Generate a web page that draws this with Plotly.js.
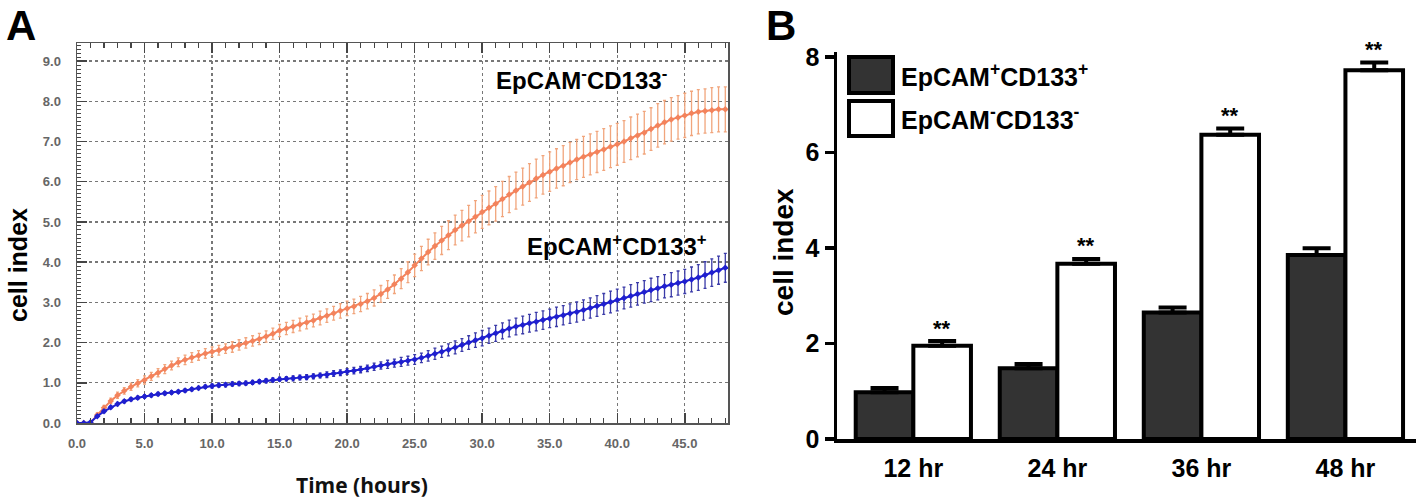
<!DOCTYPE html>
<html>
<head>
<meta charset="utf-8">
<script src="https://cdn.plot.ly/plotly-3.0.1.min.js"></script>
<style>
  body { margin: 0; background: #fff; }
  #plot { width: 1418px; height: 504px; }
</style>
</head>
<body>
<div id="plot"></div>
<script>
// panel A: real-time cell index, sampled every half hour
var hours = [
  0, 0.5, 1, 1.5, 2, 2.5, 3, 3.5, 4, 4.5,
  5, 5.5, 6, 6.5, 7, 7.5, 8, 8.5, 9, 9.5,
  10, 10.5, 11, 11.5, 12, 12.5, 13, 13.5, 14, 14.5,
  15, 15.5, 16, 16.5, 17, 17.5, 18, 18.5, 19, 19.5,
  20, 20.5, 21, 21.5, 22, 22.5, 23, 23.5, 24, 24.5,
  25, 25.5, 26, 26.5, 27, 27.5, 28, 28.5, 29, 29.5,
  30, 30.5, 31, 31.5, 32, 32.5, 33, 33.5, 34, 34.5,
  35, 35.5, 36, 36.5, 37, 37.5, 38, 38.5, 39, 39.5,
  40, 40.5, 41, 41.5, 42, 42.5, 43, 43.5, 44, 44.5,
  45, 45.5, 46, 46.5, 47, 47.5, 48
];

var negCurve = [
  0, 0, 0.0, 0.2, 0.38, 0.55, 0.69, 0.8, 0.9, 0.99,
  1.07, 1.16, 1.25, 1.34, 1.43, 1.51, 1.57, 1.63, 1.68, 1.73,
  1.77, 1.81, 1.85, 1.89, 1.94, 1.99, 2.04, 2.09, 2.15, 2.22,
  2.3, 2.35, 2.4, 2.45, 2.5, 2.55, 2.61, 2.67, 2.73, 2.79,
  2.85, 2.9, 2.96, 3.03, 3.11, 3.21, 3.32, 3.45, 3.59, 3.75,
  3.92, 4.09, 4.25, 4.4, 4.54, 4.67, 4.8, 4.91, 5.02, 5.13,
  5.25, 5.35, 5.45, 5.57, 5.68, 5.78, 5.88, 5.98, 6.08, 6.17,
  6.25, 6.33, 6.4, 6.48, 6.55, 6.62, 6.68, 6.74, 6.8, 6.87,
  6.93, 7.0, 7.08, 7.15, 7.22, 7.31, 7.4, 7.48, 7.55, 7.6,
  7.65, 7.7, 7.74, 7.76, 7.78, 7.8, 7.8
];
var negCurveErr = [
  0, 0, 0.03, 0.05, 0.06, 0.07, 0.08, 0.08, 0.09, 0.09,
  0.1, 0.1, 0.1, 0.11, 0.11, 0.11, 0.12, 0.12, 0.12, 0.12,
  0.12, 0.12, 0.12, 0.13, 0.13, 0.13, 0.13, 0.14, 0.14, 0.14,
  0.15, 0.15, 0.15, 0.16, 0.16, 0.16, 0.17, 0.17, 0.17, 0.18,
  0.18, 0.18, 0.19, 0.19, 0.2, 0.21, 0.22, 0.23, 0.25, 0.26,
  0.28, 0.3, 0.32, 0.33, 0.35, 0.36, 0.37, 0.38, 0.39, 0.4,
  0.41, 0.42, 0.43, 0.44, 0.45, 0.46, 0.46, 0.47, 0.48, 0.48,
  0.49, 0.49, 0.5, 0.5, 0.5, 0.51, 0.51, 0.51, 0.52, 0.52,
  0.52, 0.52, 0.53, 0.53, 0.53, 0.53, 0.54, 0.54, 0.54, 0.54,
  0.55, 0.55, 0.55, 0.55, 0.56, 0.56, 0.56
];

var posCurve = [
  0, 0, 0.02, 0.17, 0.29, 0.39, 0.47, 0.54, 0.59, 0.63,
  0.66, 0.69, 0.72, 0.74, 0.76, 0.78, 0.81, 0.84, 0.87, 0.9,
  0.92, 0.94, 0.95, 0.97, 0.98, 0.99, 1.01, 1.03, 1.05, 1.07,
  1.09, 1.1, 1.11, 1.13, 1.14, 1.16, 1.18, 1.2, 1.23, 1.25,
  1.28, 1.3, 1.33, 1.36, 1.4, 1.43, 1.46, 1.49, 1.52, 1.55,
  1.58, 1.62, 1.67, 1.72, 1.77, 1.82, 1.88, 1.94, 2.0, 2.06,
  2.11, 2.17, 2.23, 2.29, 2.35, 2.4, 2.44, 2.48, 2.52, 2.56,
  2.6, 2.64, 2.68, 2.72, 2.76, 2.81, 2.86, 2.91, 2.96, 3.01,
  3.06, 3.11, 3.16, 3.21, 3.26, 3.31, 3.35, 3.4, 3.44, 3.48,
  3.52, 3.57, 3.62, 3.68, 3.74, 3.8, 3.86
];
var posCurveErr = [
  0, 0, 0.02, 0.03, 0.03, 0.03, 0.04, 0.04, 0.04, 0.04,
  0.04, 0.04, 0.04, 0.04, 0.04, 0.04, 0.04, 0.04, 0.04, 0.04,
  0.05, 0.05, 0.05, 0.05, 0.05, 0.05, 0.05, 0.05, 0.05, 0.05,
  0.05, 0.05, 0.06, 0.06, 0.06, 0.06, 0.06, 0.07, 0.07, 0.07,
  0.07, 0.08, 0.08, 0.08, 0.09, 0.09, 0.1, 0.1, 0.11, 0.11,
  0.12, 0.12, 0.13, 0.14, 0.14, 0.15, 0.16, 0.16, 0.17, 0.18,
  0.19, 0.19, 0.2, 0.2, 0.21, 0.21, 0.22, 0.22, 0.23, 0.23,
  0.23, 0.24, 0.24, 0.24, 0.25, 0.25, 0.25, 0.26, 0.26, 0.27,
  0.27, 0.27, 0.28, 0.28, 0.28, 0.29, 0.29, 0.29, 0.3, 0.3,
  0.3, 0.31, 0.32, 0.33, 0.34, 0.35, 0.36
];

// panel B: cell index at fixed times
var times = ["12 hr", "24 hr", "36 hr", "48 hr"];
var posBars = [0.98, 1.48, 2.65, 3.85];
var posBarsErr = [0.09, 0.09, 0.1, 0.14];
var negBars = [1.95, 3.67, 6.37, 7.72];
var negBarsErr = [0.1, 0.1, 0.13, 0.16];
var stars = ["**", "**", "**", "**"];

var posName = "EpCAM<sup>+</sup>CD133<sup>+</sup>";
var negName = "EpCAM<sup>-</sup>CD133<sup>-</sup>";

var W = 1418, H = 504;
function px(x) { return x / W; }
function py(y) { return 1 - y / H; }

var font = "Liberation Sans, Arial, sans-serif";

var traceNeg = {
  x: hours, y: negCurve,
  type: "scatter", mode: "lines+markers",
  line: {color: "#f3835c", width: 2},
  marker: {color: "#f3835c", size: 5, symbol: "diamond"},
  error_y: {type: "data", array: negCurveErr, visible: true,
            color: "#f1a57c", thickness: 1.3, width: 1.5},
  xaxis: "x", yaxis: "y", showlegend: false, hoverinfo: "x+y"
};
var tracePos = {
  x: hours, y: posCurve,
  type: "scatter", mode: "lines+markers",
  line: {color: "#1f1fcf", width: 2},
  marker: {color: "#1f1fcf", size: 5, symbol: "diamond"},
  error_y: {type: "data", array: posCurveErr, visible: true,
            color: "#3a3aa8", thickness: 1.3, width: 1.5},
  xaxis: "x", yaxis: "y", showlegend: false, hoverinfo: "x+y"
};

var zeros = times.map(function () { return 0; });

var barPos = {
  x: times, y: posBars, type: "bar", name: posName,
  marker: {color: "#333333", line: {color: "#000", width: 4}},
  error_y: {type: "data", symmetric: false, array: posBarsErr, arrayminus: zeros,
            color: "#000", thickness: 4, width: 14},
  xaxis: "x2", yaxis: "y2", showlegend: false
};
var barNeg = {
  x: times, y: negBars, type: "bar", name: negName,
  marker: {color: "#ffffff", line: {color: "#000", width: 4}},
  error_y: {type: "data", symmetric: false, array: negBarsErr, arrayminus: zeros,
            color: "#000", thickness: 4, width: 14},
  xaxis: "x2", yaxis: "y2", showlegend: false
};

// paper-positioned label, anchored explicitly
function label(text, x, y, size, opts) {
  var a = {text: text, x: px(x), y: py(y), xref: "paper", yref: "paper", showarrow: false,
           xanchor: "center", yanchor: "middle",
           font: {size: size, weight: "bold", color: "#000", family: font}};
  for (var k in opts) a[k] = opts[k];
  return a;
}

var annotations = [
  label("A", 21, 0, 42, {yanchor: "top"}),
  label("B", 781, 0, 42, {yanchor: "top"}),
  label("cell index", 18, 265, 25, {textangle: -90}),
  label("Time (hours)", 362, 485, 21,
        {font: {size: 21, weight: "bold", color: "#111", family: "Open Sans, sans-serif"}}),
  label(negName, 581, 79, 24),
  label(posName, 617, 245, 24),
  label("cell index", 783, 252, 28, {textangle: -90}),
  label(posName, 899, 75, 25, {xanchor: "left"}),
  label(negName, 899, 118, 25, {xanchor: "left"})
];
stars.forEach(function (s, i) {
  annotations.push({text: s, x: i + 0.2, y: negBars[i] + negBarsErr[i], xref: "x2", yref: "y2",
    showarrow: false, xanchor: "center", yanchor: "middle", yshift: 13,
    font: {size: 22, weight: "bold", color: "#000", family: font}});
});

var shapes = [
  {type: "rect", xref: "paper", yref: "paper", x0: px(849), x1: px(893), y0: py(57), y1: py(93),
   fillcolor: "#333333", line: {color: "#000", width: 4}},
  {type: "rect", xref: "paper", yref: "paper", x0: px(849), x1: px(893), y0: py(101), y1: py(136),
   fillcolor: "#ffffff", line: {color: "#000", width: 4}}
];

var layout = {
  width: W, height: H,
  margin: {l: 0, r: 0, t: 0, b: 0},
  paper_bgcolor: "#fff", plot_bgcolor: "#fff",
  font: {family: font},
  barmode: "group", bargap: 0.2, bargroupgap: 0,
  xaxis: {
    domain: [px(77), px(728)], range: [0, 48.2], anchor: "y",
    dtick: 5, tick0: 0, tickformat: ".1f",
    ticks: "inside", ticklen: 10, tickwidth: 1.5, tickcolor: "#444",
    minor: {dtick: 1, ticks: "inside", ticklen: 5, tickwidth: 1.2, tickcolor: "#444", showgrid: false},
    showline: true, linecolor: "#555", linewidth: 1.5, mirror: "ticks",
    showgrid: true, gridcolor: "#777", griddash: "dot", gridwidth: 1.3,
    zeroline: false, ticklabelstandoff: 8,
    tickfont: {size: 13, weight: "bold", color: "#666", family: font}
  },
  yaxis: {
    domain: [py(423), py(43)], range: [0, 9.45], anchor: "x",
    dtick: 1, tick0: 0, tickformat: ".1f",
    ticks: "inside", ticklen: 10, tickwidth: 1.5, tickcolor: "#444",
    minor: {dtick: 0.1, ticks: "inside", ticklen: 4, tickwidth: 1, tickcolor: "#444", showgrid: false},
    showline: true, linecolor: "#555", linewidth: 1.5, mirror: true,
    showgrid: true, gridcolor: "#777", griddash: "dot", gridwidth: 1.3,
    zeroline: false, ticklabelstandoff: 12,
    tickfont: {size: 13, weight: "bold", color: "#666", family: font}
  },
  xaxis2: {
    domain: [px(837), px(1416)], range: [-0.53, 3.49], anchor: "y2",
    type: "category", showline: true, linecolor: "#000", linewidth: 3.5,
    ticks: "", showgrid: false, zeroline: false, ticklabelstandoff: 4,
    tickfont: {size: 25, weight: "bold", color: "#000", family: font}
  },
  yaxis2: {
    domain: [py(439), py(52)], range: [0, 8.1], anchor: "x2",
    dtick: 2, tick0: 0, ticks: "outside", ticklen: 9, tickwidth: 3.5, tickcolor: "#000",
    showline: true, linecolor: "#000", linewidth: 3.5,
    showgrid: false, zeroline: false, ticklabelstandoff: 0,
    tickfont: {size: 25, weight: "bold", color: "#000", family: font}
  },
  annotations: annotations,
  shapes: shapes
};

Plotly.newPlot("plot", [traceNeg, tracePos, barPos, barNeg], layout, {displayModeBar: false, staticPlot: true});
</script>
</body>
</html>
